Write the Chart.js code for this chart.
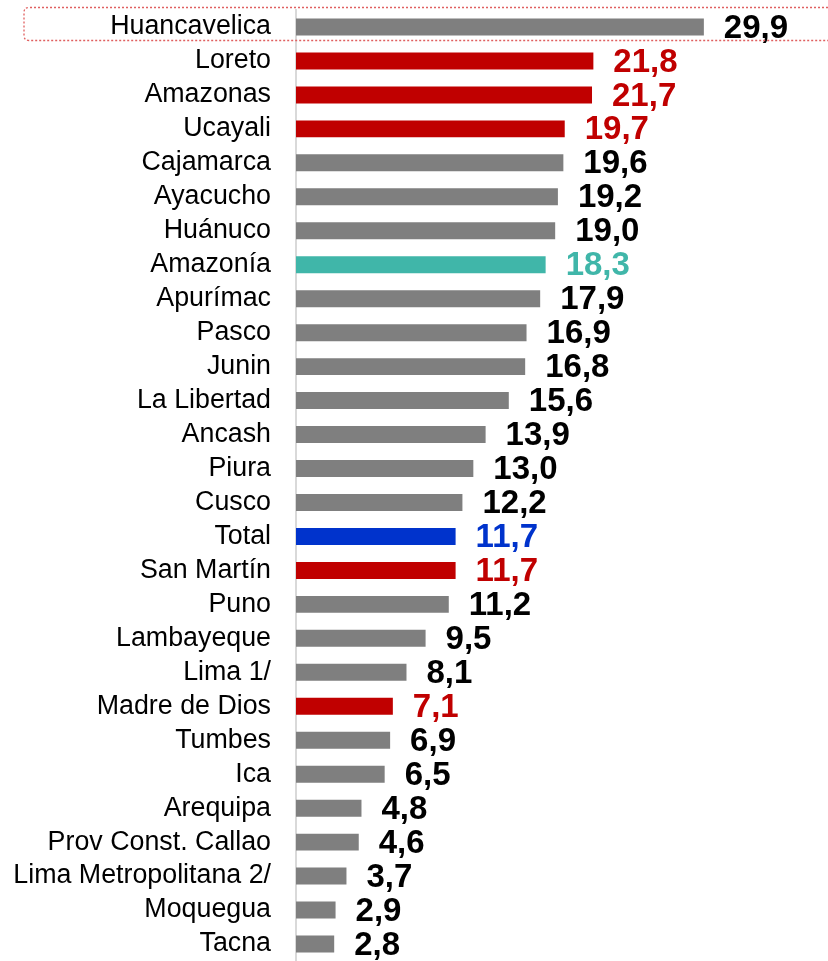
<!DOCTYPE html>
<html>
<head>
<meta charset="utf-8">
<script src="https://cdn.jsdelivr.net/npm/chart.js@4/dist/chart.umd.min.js"></script>
<style>
  html, body { margin: 0; padding: 0; background: #ffffff; }
  #wrap { position: relative; width: 828px; height: 961px; }
</style>
</head>
<body>
<div id="wrap"><canvas id="c"></canvas></div>
<script>
// ---- Data ----
const categories = [
  "Huancavelica", "Loreto", "Amazonas", "Ucayali", "Cajamarca", "Ayacucho",
  "Huánuco", "Amazonía", "Apurímac", "Pasco", "Junin", "La Libertad",
  "Ancash", "Piura", "Cusco", "Total", "San Martín", "Puno", "Lambayeque",
  "Lima 1/", "Madre de Dios", "Tumbes", "Ica", "Arequipa",
  "Prov Const. Callao", "Lima Metropolitana 2/", "Moquegua", "Tacna"
];
const values = [
  29.9, 21.8, 21.7, 19.7, 19.6, 19.2,
  19.0, 18.3, 17.9, 16.9, 16.8, 15.6,
  13.9, 13.0, 12.2, 11.7, 11.7, 11.2, 9.5,
  8.1, 7.1, 6.9, 6.5, 4.8,
  4.6, 3.7, 2.9, 2.8
];
// group of each category: "dep" = department, "amz" = amazon department, "reg" = Amazonía region, "tot" = national total
const groups = [
  "dep", "amz", "amz", "amz", "dep", "dep",
  "dep", "reg", "dep", "dep", "dep", "dep",
  "dep", "dep", "dep", "tot", "amz", "dep", "dep",
  "dep", "amz", "dep", "dep", "dep",
  "dep", "dep", "dep", "dep"
];
const highlighted = ["Huancavelica"];

// ---- Styles ----
const barColors = { dep: "#7F7F7F", amz: "#C00000", reg: "#40B6A9", tot: "#0033CC" };
const labelColors = { dep: "#000000", amz: "#C00000", reg: "#40B6A9", tot: "#0033CC" };
const FONT = "'Liberation Sans', Arial, Helvetica, sans-serif";

const valueLabels = {
  id: "valueLabels",
  afterDatasetsDraw(chart) {
    const ctx = chart.ctx;
    const meta = chart.getDatasetMeta(0);
    ctx.save();
    ctx.font = "bold 33px " + FONT;
    ctx.textAlign = "left";
    ctx.textBaseline = "middle";
    meta.data.forEach((bar, i) => {
      ctx.fillStyle = labelColors[groups[i]];
      ctx.fillText(values[i].toFixed(1).replace(".", ","), bar.x + 20, bar.y + 1.5);
    });
    ctx.restore();
  }
};

const highlightBox = {
  id: "highlightBox",
  afterDraw(chart) {
    const ctx = chart.ctx;
    const yScale = chart.scales.y;
    ctx.save();
    ctx.strokeStyle = "#E06060";
    ctx.lineWidth = 1.3;
    ctx.setLineDash([2, 2]);
    highlighted.forEach(name => {
      const idx = categories.indexOf(name);
      const yc = yScale.getPixelForValue(idx);
      const top = yc - 19.5, bottom = yc + 13.5;
      const left = 24, right = chart.width + 20, r = 5;
      ctx.beginPath();
      ctx.moveTo(right, top);
      ctx.lineTo(left + r, top);
      ctx.quadraticCurveTo(left, top, left, top + r);
      ctx.lineTo(left, bottom - r);
      ctx.quadraticCurveTo(left, bottom, left + r, bottom);
      ctx.lineTo(right, bottom);
      ctx.stroke();
    });
    ctx.restore();
  }
};

new Chart(document.getElementById("c"), {
  type: "bar",
  data: {
    labels: categories,
    datasets: [{
      data: values,
      backgroundColor: groups.map(g => barColors[g]),
      borderWidth: 0,
      barPercentage: 0.5,
      categoryPercentage: 1.0
    }]
  },
  options: {
    indexAxis: "y",
    responsive: true,
    maintainAspectRatio: false,
    animation: false,
    layout: { padding: { top: 10, bottom: 0, left: 0, right: 0 } },
    plugins: {
      legend: { display: false },
      tooltip: { enabled: false },
      title: { display: false }
    },
    scales: {
      x: {
        display: false,
        min: 0,
        max: 39
      },
      y: {
        grid: { display: false, drawTicks: false },
        border: { display: true, color: "#D9D9D9", width: 2 },
        ticks: {
          color: "#000000",
          padding: 25,
          autoSkip: false,
          font: { family: FONT, size: 26.8 }
        },
        afterFit(scale) {
          scale.width = 296;
          scale.paddingTop = 0;
          scale.paddingBottom = 0;
        }
      }
    }
  },
  plugins: [valueLabels, highlightBox]
});
</script>
</body>
</html>
